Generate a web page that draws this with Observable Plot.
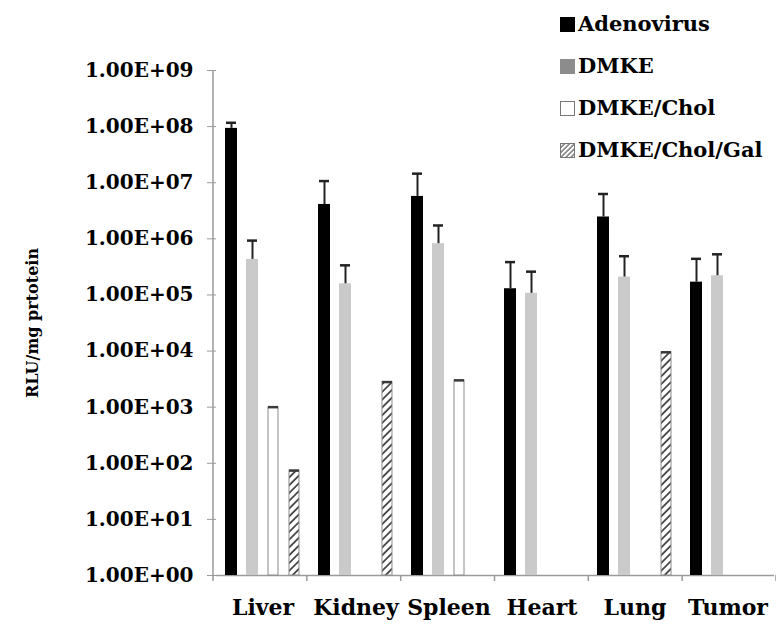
<!DOCTYPE html>
<html>
<head>
<meta charset="utf-8">
<script src="https://cdn.jsdelivr.net/npm/d3@7"></script>
<script src="https://cdn.jsdelivr.net/npm/@observablehq/plot@0.6"></script>
<style>
  html, body { margin: 0; padding: 0; background: #fff; }
  #wrap { position: relative; width: 776px; height: 624px; }
  #legend { position: absolute; left: 560px; top: 0; font-family: "DejaVu Serif", serif; font-weight: bold; font-size: 21px; color: #000; }
  .item { position: absolute; left: 0; display: flex; align-items: center; white-space: nowrap; font-family: "DejaVu Serif", serif; }
  .item svg { margin-right: 2px; }
</style>
</head>
<body>
<div id="wrap"><div id="legend"></div></div>
<script>
const organs = ["Liver", "Kidney", "Spleen", "Heart", "Lung", "Tumor"];
const seriesNames = ["Adenovirus", "DMKE", "DMKE/Chol", "DMKE/Chol/Gal"];
const adenovirus    = [9.3e7, 4.1e6, 5.7e6, 1.29e5, 2.45e6, 1.69e5];
const adenovirusUp  = [1.17e8, 1.07e7, 1.45e7, 3.85e5, 6.3e6, 4.4e5];
const dmke          = [4.3e5, 1.58e5, 8.2e5, 1.07e5, 2.08e5, 2.2e5];
const dmkeUp        = [9.3e5, 3.37e5, 1.73e6, 2.6e5, 4.9e5, 5.3e5];
const dmkeChol      = [1.0e3, null, 3.0e3, null, null, null];
const dmkeCholGal   = [74, 2.8e3, null, null, 9.5e3, null];
const yTicks = [1, 10, 100, 1e3, 1e4, 1e5, 1e6, 1e7, 1e8, 1e9];
const yTickLabels = ["1.00E+00", "1.00E+01", "1.00E+02", "1.00E+03", "1.00E+04", "1.00E+05", "1.00E+06", "1.00E+07", "1.00E+08", "1.00E+09"];
const yTitle = "RLU/mg prtotein";

const seriesValues = [adenovirus, dmke, dmkeChol, dmkeCholGal];
const seriesUpper = [adenovirusUp, dmkeUp, dmkeChol, dmkeCholGal];
const rows = [];
seriesNames.forEach((s, si) => organs.forEach((o, oi) => {
  const v = seriesValues[si][oi];
  if (v != null) rows.push({organ: o, series: s, value: v, upper: seriesUpper[si][oi]});
}));
const bySeries = s => rows.filter(d => d.series === s);
const errRows = rows.filter(d => d.series === "Adenovirus" || d.series === "DMKE");
const capRows = rows.filter(d => d.series === "DMKE/Chol" || d.series === "DMKE/Chol/Gal");

const plot = Plot.plot({
  width: 776, height: 624,
  marginLeft: 213, marginRight: 0, marginTop: 70, marginBottom: 49,
  style: {fontFamily: "'DejaVu Serif', serif", fontWeight: "bold", background: "transparent", color: "#000"},
  fx: {domain: organs, padding: 0, axis: null},
  x: {domain: seriesNames, paddingInner: 0.42, paddingOuter: 0.36, axis: null},
  y: {type: "log", domain: [1, 1e9], axis: null},
  marks: [
    Plot.ruleY([1], {stroke: "#9a9a9a", strokeWidth: 1.5}),
    Plot.barY(bySeries("Adenovirus"), {fx: "organ", x: "series", y1: 1, y2: "value", fill: "#000"}),
    Plot.barY(bySeries("DMKE"), {fx: "organ", x: "series", y1: 1, y2: "value", fill: "#cacaca"}),
    Plot.barY(bySeries("DMKE/Chol"), {fx: "organ", x: "series", y1: 1, y2: "value", fill: "#fff", stroke: "#8a8a8a", strokeWidth: 1, insetLeft: 1, insetRight: 1}),
    Plot.barY(bySeries("DMKE/Chol/Gal"), {fx: "organ", x: "series", y1: 1, y2: "value", fill: "url(#hatch)", stroke: "#8a8a8a", strokeWidth: 1, insetLeft: 1, insetRight: 1}),
    Plot.ruleX(errRows, {fx: "organ", x: "series", y1: "value", y2: "upper", stroke: "#222", strokeWidth: 2}),
    Plot.tickY(errRows, {fx: "organ", x: "series", y: "upper", stroke: "#222", strokeWidth: 2.5, insetLeft: 1, insetRight: 1}),
    Plot.tickY(capRows, {fx: "organ", x: "series", y: "upper", stroke: "#3a3a3a", strokeWidth: 2.5, insetLeft: 1, insetRight: 1}),
    Plot.axisY({ticks: yTicks, tickFormat: d => yTickLabels[yTicks.indexOf(d)], tickSize: 9, tickPadding: 14, fontSize: 20, stroke: "#9a9a9a", fill: "#000", label: null}),
    Plot.axisFx({anchor: "bottom", tickSize: 0, tickPadding: 24, fontSize: 22, label: null}),
    Plot.text([{organ: organs[0], t: yTitle}], {fx: "organ", text: "t", frameAnchor: "left", dx: -184, rotate: -90, textAnchor: "middle", fontSize: 16, fontWeight: "bold"})
  ]
});

// hatch pattern
const svg = d3.select(plot.tagName.toLowerCase() === "svg" ? plot : plot.querySelector("svg"));
const defs = svg.insert("defs", ":first-child");
const pat = defs.append("pattern").attr("id", "hatch").attr("patternUnits", "userSpaceOnUse")
  .attr("width", 5.5).attr("height", 5.5).attr("patternTransform", "rotate(45)");
pat.append("rect").attr("width", 5.5).attr("height", 5.5).attr("fill", "#fff");
pat.append("line").attr("x1", 1).attr("x2", 1).attr("y1", 0).attr("y2", 5.5).attr("stroke", "#3a3a3a").attr("stroke-width", 1.7);

// axis lines and category boundary ticks from the library's scales
const fx = plot.scale("fx"), y = plot.scale("y");
const x0 = fx.range[0], x1 = fx.range[1];
const yTop = y.apply(1e9), yBase = y.apply(1);
const g = svg.append("g").attr("stroke", "#9a9a9a").attr("stroke-width", 1.5);
g.append("line").attr("x1", x0).attr("x2", x0).attr("y1", yTop).attr("y2", yBase);
const step = (x1 - x0) / organs.length;
for (let i = 0; i <= organs.length; i++) {
  const bx = x0 + i * step;
  g.append("line").attr("x1", bx).attr("x2", bx).attr("y1", yBase).attr("y2", yBase + 6);
}

document.getElementById("wrap").prepend(plot);

// legend
const legend = d3.select("#legend");
const swatch = [
  {fill: "#000", stroke: "#000"},
  {fill: "#8c8c8c", stroke: "#8c8c8c"},
  {fill: "#fff", stroke: "#777"},
  {fill: "url(#lhatch)", stroke: "#777"}
];
const legendTops = [11, 53, 95, 137];
seriesNames.forEach((s, i) => {
  const it = legend.append("div").attr("class", "item").style("top", legendTops[i] + "px");
  const sv = it.append("svg").attr("width", 16).attr("height", 16);
  if (i === 3) {
    const p = sv.append("defs").append("pattern").attr("id", "lhatch").attr("patternUnits", "userSpaceOnUse")
      .attr("width", 3.5).attr("height", 3.5).attr("patternTransform", "rotate(45)");
    p.append("rect").attr("width", 3.5).attr("height", 3.5).attr("fill", "#fff");
    p.append("line").attr("x1", 1).attr("x2", 1).attr("y1", 0).attr("y2", 3.5).attr("stroke", "#555").attr("stroke-width", 1.2);
  }
  sv.append("rect").attr("x", 0.5).attr("y", 1.5).attr("width", 14).attr("height", 14).attr("fill", swatch[i].fill).attr("stroke", swatch[i].stroke);
  it.append("span").text(s);
});
</script>
</body>
</html>
